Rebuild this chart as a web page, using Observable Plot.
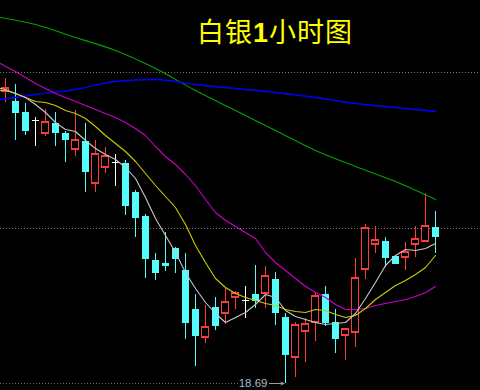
<!DOCTYPE html>
<html>
<head>
<meta charset="utf-8">
<script src="https://cdn.jsdelivr.net/npm/d3@7"></script>
<script src="https://cdn.jsdelivr.net/npm/@observablehq/plot@0.6"></script>
<style>
  html, body { margin: 0; padding: 0; background: #000; }
  #wrap { position: relative; width: 480px; height: 390px; background: #000; overflow: hidden; }
  #title { position: absolute; left: 197px; top: 11px; color: #ffff00; font-family: "Noto Sans CJK SC", sans-serif; font-size: 27px; letter-spacing: 1px; white-space: nowrap; z-index: 2; }
  #title b { font-family: "Liberation Sans", Arial, sans-serif; font-weight: bold; }
</style>
</head>
<body>
<div id="wrap"><div id="title">白银<b>1</b>小时图</div></div>
<script>
// ---- candle data (silver, 1-hour bars) ----
const opens  = [19.274,19.254,19.232,19.216,19.190,19.210,19.190,19.158,19.174,19.090,
                19.122,19.132,19.130,19.072,19.024,18.936,18.930,18.960,18.916,18.838,
                18.782,18.842,18.830,18.862,18.856,18.868,18.870,18.898,18.822,18.742,
                18.794,18.812,18.868,18.812,18.786,18.792,18.918,18.968,18.974,18.944,
                18.942,18.968,18.974,19.002];
const closes = [19.280,19.230,19.194,19.216,19.212,19.190,19.176,19.176,19.112,19.148,
                19.144,19.132,19.044,19.020,18.938,18.910,18.924,18.938,18.810,18.784,
                18.802,18.804,18.852,18.870,18.856,18.854,18.904,18.830,18.746,18.806,
                18.808,18.864,18.810,18.778,18.798,18.900,19.000,18.976,18.940,18.928,
                18.952,18.978,19.004,18.982];
const highs  = [19.300,19.288,19.250,19.222,19.238,19.232,19.194,19.236,19.210,19.176,
                19.162,19.148,19.136,19.076,19.028,18.950,18.992,18.962,18.950,18.868,
                18.846,18.862,18.880,18.874,18.884,18.926,18.924,18.912,18.830,18.812,
                18.820,18.870,18.884,18.838,18.798,18.940,19.008,19.004,18.982,18.944,
                18.972,19.004,19.070,19.034];
const lows   = [19.252,19.176,19.186,19.164,19.184,19.164,19.132,19.144,19.072,19.072,
                19.110,19.084,19.026,18.982,18.900,18.896,18.914,18.910,18.778,18.724,
                18.770,18.796,18.808,18.838,18.820,18.840,18.840,18.806,18.690,18.702,
                18.732,18.774,18.804,18.750,18.736,18.762,18.898,18.950,18.922,18.928,
                18.916,18.942,18.974,18.950];

// ---- moving averages (first value is at the left edge, then one per bar) ----
const maWhite   = [19.280,19.278,19.270,19.262,19.248,19.232,19.212,19.198,19.194,19.176,19.160,
                   19.148,19.138,19.122,19.100,19.062,19.020,18.986,18.952,18.912,18.880,
                   18.852,18.830,18.812,18.822,18.832,18.848,18.868,18.862,18.836,18.824,
                   18.818,18.812,18.808,18.810,18.812,18.830,18.860,18.892,18.926,18.946,
                   18.958,18.956,18.960,18.970];
const maYellow  = [19.276,19.276,19.270,19.262,19.254,19.252,19.246,19.236,19.230,19.220,19.204,
                   19.186,19.170,19.154,19.134,19.110,19.086,19.064,19.042,19.008,18.966,
                   18.932,18.900,18.882,18.870,18.862,18.856,18.850,18.846,18.838,18.834,
                   18.832,18.838,18.836,18.828,18.822,18.826,18.840,18.858,18.872,18.886,
                   18.896,18.908,18.922,18.946];
const maMagenta = [19.330,19.324,19.314,19.302,19.290,19.280,19.270,19.262,19.254,19.246,19.238,
                   19.230,19.222,19.212,19.200,19.186,19.164,19.144,19.128,19.108,19.086,
                   19.058,19.032,19.016,19.004,18.992,18.980,18.952,18.932,18.916,18.900,
                   18.884,18.872,18.862,18.848,18.838,18.838,18.840,18.846,18.850,18.854,
                   18.858,18.864,18.872,18.884];
// long averages, read at every fourth bar
const longIdx   = [-0.5, 3, 7, 11, 15, 19, 23, 27, 31, 35, 39, 43];
const maGreen   = [19.422,19.408,19.382,19.356,19.320,19.276,19.236,19.196,19.156,19.124,19.094,19.058];
const maBlue    = [19.258,19.268,19.278,19.294,19.298,19.288,19.280,19.272,19.262,19.250,19.242,19.234];

// dotted reference levels
const levels = [19.312, 19.000];
const lowLabel = "18.69";

// ---- build tables ----
const candles = opens.map((o, i) => ({
  i, open: o, close: closes[i], high: highs[i], low: lows[i],
  dir: closes[i] > o ? "up" : closes[i] < o ? "down" : "flat"
}));
const maIdx = [-0.5, ...d3.range(opens.length)];
const toPts = (arr, ix) => arr.map((v, k) => ({i: ix[k], v}));
const lowBar = candles.reduce((a, b) => (b.low < a.low ? b : a));

const RED = "#ff3a3a", CYAN = "#54fcfc", WHITE = "#ffffff";
const colorOf = d => d.dir === "up" ? RED : d.dir === "down" ? CYAN : WHITE;
const hw = 0.35;

const chart = Plot.plot({
  width: 480, height: 390,
  marginTop: 0, marginRight: 0, marginBottom: 0, marginLeft: 0,
  style: {background: "#000", overflow: "visible"},
  x: {type: "linear", domain: [-0.5, 47.5], axis: null},
  y: {domain: [18.676, 19.456], axis: null},
  marks: [
    Plot.ruleY(levels, {stroke: "#7a7a7a", strokeDasharray: "1,2", strokeWidth: 1}),
    Plot.ruleY([lowBar], {y: "low", x1: -0.5, x2: d => d.i - 4.5, stroke: "#6a6a6a", strokeDasharray: "1,2"}),
    // wicks
    Plot.ruleX(candles, {x: "i", y1: "low", y2: "high", stroke: colorOf, strokeWidth: 1, shapeRendering: "crispEdges"}),
    // bodies: down = filled cyan
    Plot.rect(candles.filter(d => d.dir === "down"), {
      x1: d => d.i - hw, x2: d => d.i + hw, y1: "open", y2: "close",
      fill: CYAN, shapeRendering: "crispEdges"
    }),
    // bodies: up = hollow red
    Plot.rect(candles.filter(d => d.dir === "up"), {
      x1: d => d.i - hw, x2: d => d.i + hw, y1: "open", y2: "close",
      fill: "#000", stroke: RED, strokeWidth: 1.2, shapeRendering: "crispEdges"
    }),
    // doji crosses
    Plot.ruleY(candles.filter(d => d.dir === "flat"), {
      y: "open", x1: d => d.i - hw, x2: d => d.i + hw, stroke: WHITE, strokeWidth: 1.2, shapeRendering: "crispEdges"
    }),
    // moving averages
    Plot.line(toPts(maGreen, longIdx), {x: "i", y: "v", stroke: "#00a400", strokeWidth: 1.1, curve: "monotone-x"}),
    Plot.line(toPts(maBlue, longIdx), {x: "i", y: "v", stroke: "#0000ff", strokeWidth: 1.4, curve: "monotone-x"}),
    Plot.line(toPts(maMagenta, maIdx), {x: "i", y: "v", stroke: "#cc00cc", strokeWidth: 1.1}),
    Plot.line(toPts(maYellow, maIdx), {x: "i", y: "v", stroke: "#cccc00", strokeWidth: 1.1}),
    Plot.line(toPts(maWhite, maIdx), {x: "i", y: "v", stroke: "#c8c8c8", strokeWidth: 1.1}),
    // low marker
    Plot.arrow([lowBar], {
      x1: d => d.i - 1.6, x2: d => d.i - 0.15, y1: "low", y2: "low",
      stroke: "#a0a0a0", strokeWidth: 1, headLength: 5, headAngle: 50
    }),
    Plot.text([lowBar], {
      x: "i", y: "low", text: () => lowLabel, dx: -18, textAnchor: "end", lineAnchor: "middle",
      fill: "#a8b8d0", fontSize: 11.5, fontFamily: "Liberation Sans, Arial, sans-serif"
    })
  ]
});
document.getElementById("wrap").appendChild(chart);
</script>
</body>
</html>
